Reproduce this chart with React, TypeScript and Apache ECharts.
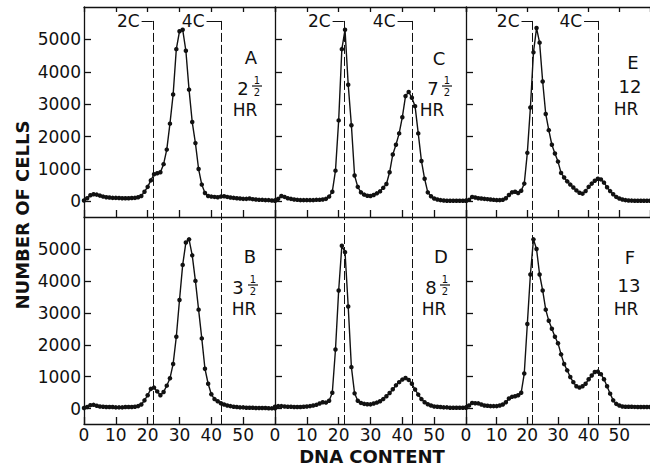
import React, { useEffect, useRef } from 'react';
import * as echarts from 'echarts';

// DNA content channels (x values)
const channels = [0,1,2,3,4,5,6,7,8,9,10,11,12,13,14,15,16,17,18,19,20,21,22,23,24,25,26,27,28,29,30,31,32,33,34,35,36,37,38,39,40,41,42,43,44,45,46,47,48,49,50,51,52,53,54,55,56,57,58,59,60];

// Number of cells per channel
const countsA = [30,100,190,220,210,180,150,130,120,110,110,105,100,100,100,105,110,130,170,300,450,650,840,870,900,1150,1600,2400,3300,4700,5250,5300,4650,3450,2450,1800,1000,520,260,170,150,140,130,150,160,140,120,110,100,90,80,80,90,70,60,50,50,40,40,30,30];
const countsB = [20,50,110,120,90,70,60,50,50,50,40,40,40,50,50,50,60,80,130,260,420,620,660,540,420,520,720,950,1400,2250,3400,4500,5200,5300,4800,4000,3100,2200,1250,780,450,300,230,170,130,100,80,60,50,40,40,30,30,30,20,20,20,20,15,10,10];
const countsC = [20,80,170,140,100,80,60,50,40,40,40,40,40,50,50,60,80,150,300,950,2500,4700,5300,3600,2350,800,450,280,210,175,170,200,250,310,420,540,900,1450,1750,2100,2600,3250,3380,3200,2940,2100,1250,700,280,160,90,60,40,30,20,20,20,20,20,20,20];
const countsD = [60,80,80,70,60,60,50,50,50,60,70,80,100,120,160,200,190,250,500,1850,3700,5100,4900,3200,1300,480,250,180,150,140,135,160,190,230,300,390,490,610,730,830,910,960,900,780,600,440,300,200,140,100,70,60,50,40,40,30,30,30,30,30,30];
const countsE = [20,50,140,120,100,90,80,70,60,50,40,40,50,100,200,280,300,260,330,550,1500,2900,4600,5350,4900,3700,2700,2200,1750,1480,1230,880,740,620,520,430,340,270,240,320,450,550,640,700,680,580,440,320,220,140,90,60,40,30,25,20,20,20,20,20,20];
const countsF = [40,100,180,170,165,130,100,90,80,80,80,100,130,200,320,370,390,420,500,1100,2650,4200,5300,5000,4200,3700,3100,2750,2500,2250,2050,1700,1400,1200,990,830,700,660,700,780,920,1040,1150,1160,1080,920,700,470,260,150,100,70,60,60,60,55,50,50,50,50,50];

// Panel order: top row A, C, E; bottom row B, D, F
const panelCounts = [countsA, countsC, countsE, countsB, countsD, countsF];
const panelLetters = ['A', 'C', 'E', 'B', 'D', 'F'];
const panelWhole = ['2', '7', '12', '3', '8', '13'];
const panelHalf = [true, true, false, true, true, false];

const yTicks = [0, 1000, 2000, 3000, 4000, 5000];
const ploidyValues = [21.6, 43.2];
const ploidyNames = ['2C', '4C'];
const bracketStarts = [18.1, 38.5];
const bracketLevel = 5570;
const X_MIN = 0;
const X_MAX = 60;
const X_STEP = 10;
const Y_MIN = -480;
const Y_MAX = 6000;

// layout (pixels)
const colLefts = [84, 275, 466];
const colWidth = 191;
const rows = [
  { top: 7, height: 210 },
  { top: 217, height: 207 },
];
const annot = [
  { letter: [251, 57], num: [243, 88], frac: [257, 86], hr: [245, 109.5] },
  { letter: [439, 58], num: [433, 88], frac: [447, 86], hr: [432, 109.5] },
  { letter: [633, 62], num: [630, 86], frac: null, hr: [626, 109] },
  { letter: [250, 256], num: [238, 287], frac: [253, 285], hr: [244, 309] },
  { letter: [441, 256], num: [431, 287], frac: [445, 285], hr: [434, 309] },
  { letter: [630, 257], num: [629, 285], frac: null, hr: [626, 309] },
];

const FONT = '"DejaVu Sans", "Liberation Sans", sans-serif';
const INK = '#111';

function txt(text: string, x: number, y: number, size: number, extra: any = {}) {
  return {
    type: 'text',
    x,
    y,
    silent: true,
    ...extra,
    style: {
      text,
      fontSize: size,
      fontFamily: FONT,
      fontWeight: extra.bold ? 'bold' : 'normal',
      fill: INK,
      textAlign: 'center',
      textVerticalAlign: 'middle',
      align: 'center',
      verticalAlign: 'middle',
    },
  };
}

export default function App() {
  const ref = useRef<HTMLDivElement>(null);

  useEffect(() => {
    document.body.style.margin = '0';
    if (!ref.current) return;
    const chart = echarts.init(ref.current, undefined, { renderer: 'svg' });

    const grids: any[] = [];
    const xAxes: any[] = [];
    const yAxes: any[] = [];
    const series: any[] = [];

    const axisLineStyle = { color: INK, width: 1.3 };

    for (let i = 0; i < 6; i++) {
      const col = i % 3;
      const row = Math.floor(i / 3);
      grids.push({
        left: colLefts[col],
        top: rows[row].top,
        width: colWidth,
        height: rows[row].height,
        containLabel: false,
      });
      xAxes.push({
        gridIndex: i,
        type: 'value',
        position: 'bottom',
        min: X_MIN,
        max: X_MAX,
        interval: X_STEP,
        axisLine: { show: true, onZero: false, lineStyle: axisLineStyle },
        axisTick: { show: true, inside: true, length: 7, lineStyle: axisLineStyle },
        axisLabel: {
          show: row === 1,
          margin: 2,
          fontSize: 17,
          fontFamily: FONT,
          color: INK,
          showMaxLabel: false,
          formatter: (v: number) => String(v),
        },
        splitLine: { show: false },
      });
      yAxes.push({
        gridIndex: i,
        type: 'value',
        min: Y_MIN,
        max: Y_MAX,
        axisLine: { show: true, onZero: false, lineStyle: axisLineStyle },
        axisTick: { show: true, inside: true, length: 7, customValues: yTicks, lineStyle: axisLineStyle },
        axisLabel: {
          show: col === 0,
          customValues: yTicks,
          margin: 3,
          fontSize: 17,
          fontFamily: FONT,
          color: INK,
          formatter: (v: number) => String(v),
        },
        splitLine: { show: false },
      });
    }
    // top border axes for the top row
    for (let i = 0; i < 3; i++) {
      xAxes.push({
        gridIndex: i,
        type: 'value',
        position: 'top',
        min: X_MIN,
        max: X_MAX,
        interval: X_STEP,
        axisLine: { show: true, onZero: false, lineStyle: axisLineStyle },
        axisTick: { show: true, inside: true, length: 5, lineStyle: axisLineStyle },
        axisLabel: { show: false },
        splitLine: { show: false },
      });
    }

    for (let i = 0; i < 6; i++) {
      const row = Math.floor(i / 3);
      const counts = panelCounts[i];
      let mlData: any[];
      if (row === 0) {
        mlData = [];
        ploidyValues.forEach((v, k) => {
          mlData.push([{ coord: [v, bracketLevel] }, { coord: [v, Y_MIN] }]);
          mlData.push([
            {
              coord: [bracketStarts[k], bracketLevel],
              lineStyle: { type: 'solid', width: 1, color: INK },
              label: {
                show: true,
                formatter: ploidyNames[k],
                position: 'start',
                distance: 2,
                fontSize: 17,
                fontFamily: FONT,
                color: INK,
              },
            },
            { coord: [v, bracketLevel] },
          ]);
        });
      } else {
        mlData = ploidyValues.map((v) => ({ xAxis: v }));
      }
      series.push({
        type: 'line',
        xAxisIndex: i,
        yAxisIndex: i,
        data: channels.map((c, j) => [c, counts[j]]),
        symbol: 'circle',
        symbolSize: 4.5,
        showSymbol: true,
        lineStyle: { color: INK, width: 1.4 },
        itemStyle: { color: INK },
        silent: true,
        markLine: {
          silent: true,
          symbol: ['none', 'none'],
          animation: false,
          lineStyle: { type: [9, 3], color: INK, width: 1 },
          label: { show: false },
          emphasis: { disabled: true },
          data: mlData,
        },
      });
    }

    const graphics: any[] = [];
    annot.forEach((a, i) => {
      graphics.push(txt(panelLetters[i], a.letter[0], a.letter[1], 18));
      graphics.push(txt(panelWhole[i], a.num[0], a.num[1], 18));
      if (panelHalf[i] && a.frac) {
        const [fx, fy] = a.frac;
        graphics.push(txt('1', fx, fy - 6, 10));
        graphics.push({
          type: 'line',
          silent: true,
          shape: { x1: fx - 5, y1: fy, x2: fx + 5, y2: fy },
          style: { stroke: INK, lineWidth: 1.2 },
        });
        graphics.push(txt('2', fx, fy + 6, 10));
      }
      graphics.push(txt('HR', a.hr[0], a.hr[1], 17));
    });
    graphics.push(txt('NUMBER OF CELLS', 22, 215, 18, { rotation: Math.PI / 2, bold: true }));
    graphics.push(txt('DNA CONTENT', 372, 456, 18, { bold: true }));

    chart.setOption({
      animation: false,
      backgroundColor: '#fff',
      grid: grids,
      xAxis: xAxes,
      yAxis: yAxes,
      series,
      graphic: { elements: graphics },
    });

    return () => {
      chart.dispose();
    };
  }, []);

  return <div ref={ref} style={{ width: 650, height: 468 }} />;
}
